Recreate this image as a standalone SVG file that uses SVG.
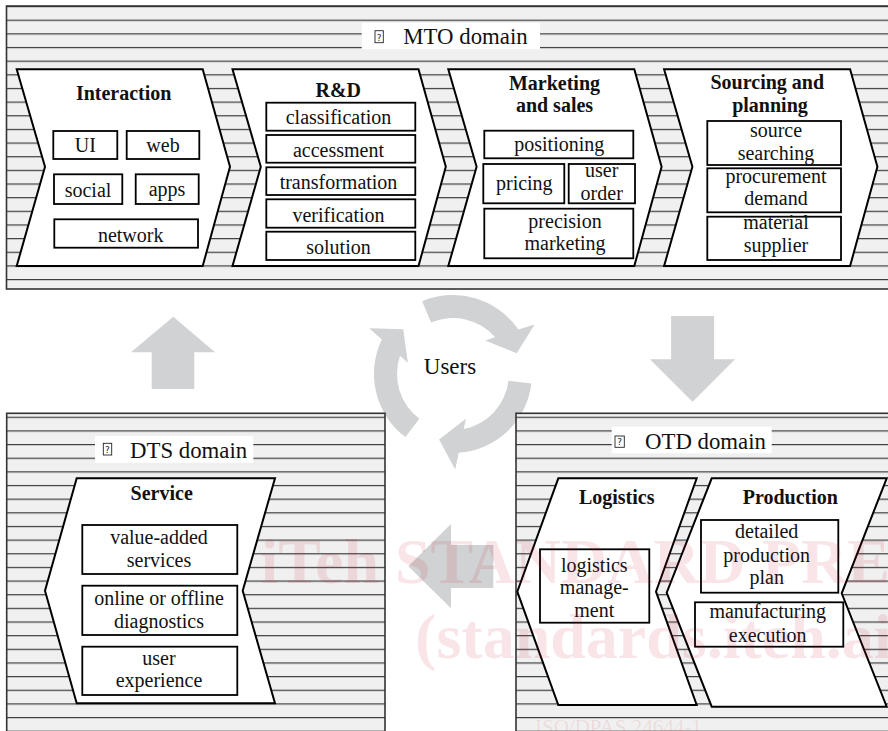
<svg xmlns="http://www.w3.org/2000/svg" xmlns:xlink="http://www.w3.org/1999/xlink" width="888" height="731" viewBox="0 0 888 731">
<defs>
<pattern id="stA" patternUnits="userSpaceOnUse" x="0" y="6" width="888" height="13.65">
<rect width="888" height="13.65" fill="#f0f0f0"/>
<rect y="0" width="888" height="1.2" fill="#3c3c3c"/>
</pattern>
<pattern id="stB" patternUnits="userSpaceOnUse" x="0" y="7.2" width="888" height="13.65">
<rect width="888" height="13.65" fill="#f0f0f0"/>
<rect y="0" width="888" height="1.2" fill="#3c3c3c"/>
</pattern>
<path id="ringArrow" d="M422.1,301.3 A79,79 0 0 1 518.4,329.6 L534.6,324.4 L516.7,353.3 L485.2,340.5 L495.2,337.2 A56,56 0 0 0 431.1,322.5 Z"/>
</defs>
<style>
.domA{fill:url(#stA);stroke:#333;stroke-width:1.6}
.domB{fill:url(#stB);stroke:#333;stroke-width:1.6}
.lblbg{fill:#fff}
.chev{fill:#fff;stroke:#000;stroke-width:2}
.box{fill:#fff;stroke:#000;stroke-width:1.8}
.t{font-family:"Liberation Serif","DejaVu Serif",serif;font-size:20px;text-anchor:middle;fill:#111}
.tb{font-weight:bold;font-size:20px}
.lbl{font-family:"Liberation Serif","DejaVu Serif",serif;font-size:22.8px;fill:#111}
.ico{fill:#fff;stroke:#222;stroke-width:0.9}
.icot{font-family:"DejaVu Sans",sans-serif;font-size:9px;text-anchor:middle;fill:#222}
.arrow{fill:#d0d2d3}
.wm{font-family:"Liberation Serif",serif;fill:#c8102e;fill-opacity:0.11}
</style>
<rect width="888" height="731" fill="#fff"/>

<g id="connectors">
<use xlink:href="#ringArrow" class="arrow"/>
<use xlink:href="#ringArrow" class="arrow" transform="rotate(120 453 374)"/>
<use xlink:href="#ringArrow" class="arrow" transform="rotate(240 453 374)"/>
<polygon class="arrow" points="173.3,316.7 215,352.3 194.3,352.3 194.3,389 151.7,389 151.7,352.3 131,352.3"/>
<polygon class="arrow" points="671.1,316 714.1,316 714.1,359.3 735,359.3 692.6,401.7 650,359.3 671.1,359.3"/>
<polygon class="arrow" points="408.3,566.3 451,524 451,545 493.3,545 493.3,588 451,588 451,608.3"/>
</g>
<text id="users" class="t" x="450" y="374.3" style="font-size:23px">Users</text>

<g id="mto-domain">
<rect class="domA" x="6.5" y="6" width="895" height="283"/>
<rect class="lblbg" x="361.7" y="22.7" width="178.3" height="26.6"/>
<rect class="ico" x="375" y="30.7" width="8.3" height="12"/>
<text class="icot" x="379.2" y="40.5">?</text>
<text class="lbl" x="403.3" y="44.3">MTO domain</text>
</g>

<g id="interaction">
<polygon class="chev" points="16.7,69.3 202.7,69.3 230,166.7 202.7,266 16.7,266 45,166.7"/>
<text class="t tb" x="123.7" y="100">Interaction</text>
<rect class="box" x="53.3" y="131" width="64" height="28"/>
<text class="t" x="85.3" y="151.7">UI</text>
<rect class="box" x="126.7" y="131" width="72.6" height="28"/>
<text class="t" x="163" y="151.7">web</text>
<rect class="box" x="54" y="174.3" width="68.3" height="29.7"/>
<text class="t" x="88" y="196.7">social</text>
<rect class="box" x="135.7" y="174.3" width="63" height="29.7"/>
<text class="t" x="167" y="195.5">apps</text>
<rect class="box" x="54.3" y="219.3" width="143.7" height="28.4"/>
<text class="t" x="130.7" y="241.7">network</text>
</g>

<g id="rnd">
<polygon class="chev" points="232.5,69.3 418.5,69.3 445.8,166.7 418.5,266 232.5,266 260.8,166.7"/>
<text class="t tb" x="338.3" y="96.7">R&amp;D</text>
<rect class="box" x="266.3" y="102.7" width="149" height="28"/>
<text class="t" x="338.5" y="124">classification</text>
<rect class="box" x="266.3" y="135" width="149" height="27.7"/>
<text class="t" x="338.5" y="156.7">accessment</text>
<rect class="box" x="266.3" y="167.3" width="149" height="27.7"/>
<text class="t" x="338.5" y="189">transformation</text>
<rect class="box" x="266.3" y="199.3" width="149" height="28.4"/>
<text class="t" x="338.5" y="221.7">verification</text>
<rect class="box" x="266.3" y="231.7" width="149" height="28.3"/>
<text class="t" x="338.5" y="254">solution</text>
</g>

<g id="marketing">
<polygon class="chev" points="448.3,69.3 634.3,69.3 661.6,166.7 634.3,266 448.3,266 476.6,166.7"/>
<text class="t tb" x="554.5" y="90">Marketing</text>
<text class="t tb" x="554.5" y="111.7">and sales</text>
<rect class="box" x="484.3" y="130.7" width="149" height="27.6"/>
<text class="t" x="559.3" y="150.7">positioning</text>
<rect class="box" x="483.3" y="164" width="81" height="39.3"/>
<text class="t" x="524.3" y="190">pricing</text>
<rect class="box" x="568.7" y="164" width="66.3" height="39.3"/>
<text class="t" x="601.7" y="176.7">user</text>
<text class="t" x="601.7" y="200">order</text>
<rect class="box" x="484.3" y="208.7" width="149" height="49.6"/>
<text class="t" x="565" y="228.3">precision</text>
<text class="t" x="565" y="250">marketing</text>
</g>

<g id="sourcing">
<polygon class="chev" points="664.1,69.3 850.1,69.3 877.4,166.7 850.1,266 664.1,266 692.4,166.7"/>
<text class="t tb" x="767.3" y="89.3">Sourcing and</text>
<text class="t tb" x="770" y="111.7">planning</text>
<rect class="box" x="707.3" y="121" width="133.7" height="44"/>
<text class="t" x="776" y="137.3">source</text>
<text class="t" x="776" y="160">searching</text>
<rect class="box" x="707.3" y="168.3" width="133.7" height="44"/>
<text class="t" x="776" y="183.3">procurement</text>
<text class="t" x="776" y="205">demand</text>
<rect class="box" x="707.3" y="216.7" width="133.7" height="43.3"/>
<text class="t" x="776" y="229.3">material</text>
<text class="t" x="776" y="251.7">supplier</text>
</g>

<g id="dts-domain">
<rect class="domB" x="6.7" y="413.3" width="378.3" height="340"/>
<rect class="lblbg" x="95" y="436" width="158.3" height="26.7"/>
<rect class="ico" x="103.3" y="443.3" width="8.4" height="11.7"/>
<text class="icot" x="107.5" y="452.8">?</text>
<text class="lbl" x="130" y="458.3">DTS domain</text>
</g>

<g id="service">
<polygon class="chev" points="76.7,478.3 275,478.3 242.7,590.7 275,703.3 76.7,703.3 45,590.7"/>
<text class="t tb" x="161.7" y="500">Service</text>
<rect class="box" x="82.3" y="525" width="155" height="49"/>
<text class="t" x="159" y="544">value-added</text>
<text class="t" x="159" y="566.7">services</text>
<rect class="box" x="82.3" y="585.7" width="155" height="49.3"/>
<text class="t" x="159" y="605">online or offline</text>
<text class="t" x="159" y="627.7">diagnostics</text>
<rect class="box" x="82.3" y="646.7" width="155" height="48.3"/>
<text class="t" x="159" y="665">user</text>
<text class="t" x="159" y="686.7">experience</text>
</g>

<g id="otd-domain">
<rect class="domB" x="516" y="413.3" width="390" height="340"/>
<rect class="lblbg" x="611.7" y="426.7" width="160" height="26.6"/>
<rect class="ico" x="615" y="436" width="9.3" height="11.3"/>
<text class="icot" x="619.6" y="445.2">?</text>
<text class="lbl" x="645" y="449.3">OTD domain</text>
</g>

<g id="logistics">
<polygon class="chev" points="558.3,478.3 696.7,478.3 656,591.7 696.7,705 558.3,705 517.3,591.7"/>
<text class="t tb" x="616.7" y="504">Logistics</text>
<rect class="box" x="540" y="549.3" width="109.3" height="73.4"/>
<text class="t" x="594.3" y="571.7">logistics</text>
<text class="t" x="594.3" y="594.3">manage-</text>
<text class="t" x="594.3" y="616.7">ment</text>
</g>

<g id="production">
<polygon class="chev" points="711.7,478.3 886.7,478.3 841.7,593.3 886.7,706.7 711.7,706.7 666.7,592.7"/>
<text class="t tb" x="790.3" y="504">Production</text>
<rect class="box" x="701" y="520" width="137.3" height="72.7"/>
<text class="t" x="766.7" y="538.3">detailed</text>
<text class="t" x="766.7" y="561.7">production</text>
<text class="t" x="766.7" y="584.3">plan</text>
<rect class="box" x="695" y="602.3" width="148.3" height="44.4"/>
<text class="t" x="767.7" y="618.3">manufacturing</text>
<text class="t" x="767.7" y="641.7">execution</text>
</g>

<g id="watermark">
<text class="wm" x="664" y="583" font-size="64" font-weight="bold" text-anchor="middle">iTeh STANDARD PREVIEW</text>
<text class="wm" x="664" y="658" font-size="64" font-weight="bold" text-anchor="middle">(standards.iteh.ai)</text>
<text class="wm" x="535" y="734" font-size="21">ISO/DPAS 24644-1</text>
</g>
</svg>
